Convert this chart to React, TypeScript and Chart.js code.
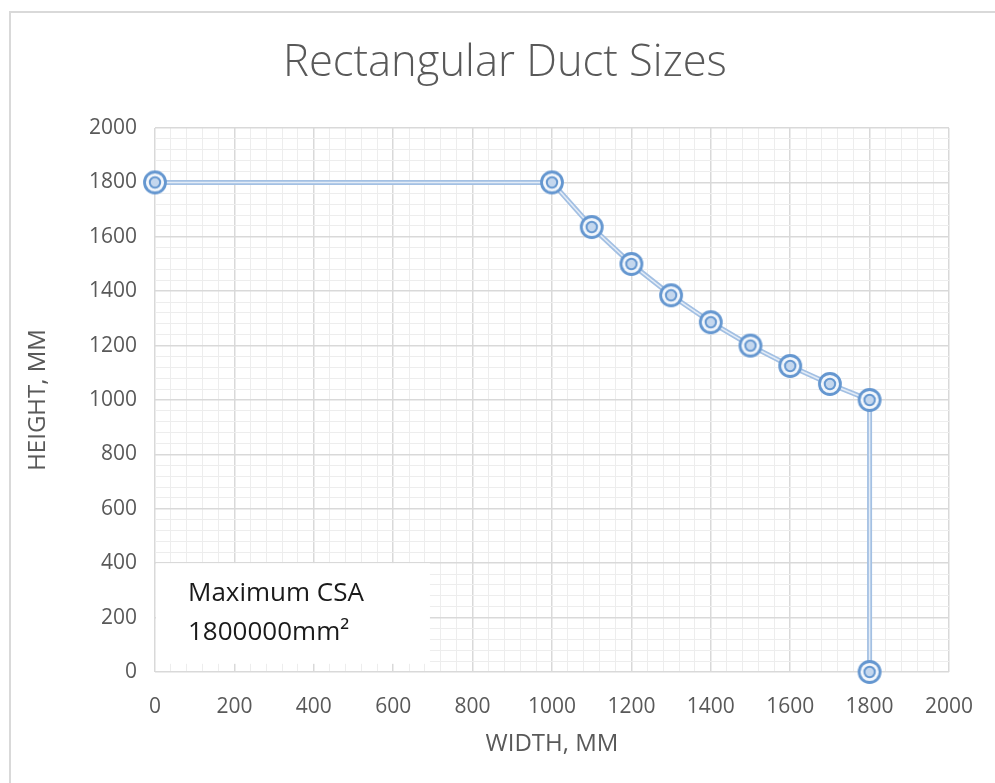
import React, { useEffect, useRef } from "react";
import { Chart, registerables } from "chart.js";

Chart.register(...registerables);

const TITLE = "Rectangular Duct Sizes";
const X_TITLE = "WIDTH, MM";
const Y_TITLE = "HEIGHT, MM";
const NOTE_LINES = ["Maximum CSA", "1800000mm²"];

const widths = [0, 1000, 1100, 1200, 1300, 1400, 1500, 1600, 1700, 1800, 1800];
const heights = [1800, 1800, 1636, 1500, 1385, 1286, 1200, 1125, 1059, 1000, 0];

const AXIS_MIN = 0;
const AXIS_MAX = 2000;
const MAJOR_STEP = 200;
const MINOR_STEP = 40;

// note box extent in data units
const NOTE_X = [0, 690];
const NOTE_Y = [30, 400];

function makeMarker(): HTMLCanvasElement {
  const c = document.createElement("canvas");
  const s = 28;
  c.width = s;
  c.height = s;
  const g = c.getContext("2d")!;
  g.beginPath();
  g.arc(s / 2, s / 2, 10.5, 0, Math.PI * 2);
  g.fillStyle = "#f3f7fc";
  g.fill();
  g.lineWidth = 2.8;
  g.strokeStyle = "#6597d0";
  g.stroke();
  g.beginPath();
  g.arc(s / 2, s / 2, 5.2, 0, Math.PI * 2);
  g.fillStyle = "#c4d7ee";
  g.fill();
  g.lineWidth = 2;
  g.strokeStyle = "#6597d0";
  g.stroke();
  return c;
}

const titlePlugin = {
  id: "centeredTitle",
  afterDraw(chart: any) {
    const { ctx } = chart;
    ctx.save();
    ctx.fillStyle = "#595959";
    ctx.font = "300 43.5px 'Open Sans'";
    ctx.textAlign = "center";
    ctx.textBaseline = "middle";
    ctx.fillText(TITLE, 505, 64);
    ctx.restore();
  },
};

const notePlugin = {
  id: "noteBox",
  beforeDatasetsDraw(chart: any) {
    const { ctx, scales } = chart;
    const x0 = scales.x.getPixelForValue(NOTE_X[0]);
    const x1 = scales.x.getPixelForValue(NOTE_X[1]);
    const y0 = scales.y.getPixelForValue(NOTE_Y[1]);
    const y1 = scales.y.getPixelForValue(NOTE_Y[0]);
    ctx.save();
    ctx.fillStyle = "#ffffff";
    ctx.fillRect(x0 + 1, y0, x1 - x0, y1 - y0);
    ctx.fillStyle = "#1a1a1a";
    ctx.font = "26px 'Open Sans'";
    ctx.textBaseline = "alphabetic";
    ctx.textAlign = "left";
    ctx.fillText(NOTE_LINES[0], x0 + 33, y0 + 38);
    ctx.fillText(NOTE_LINES[1], x0 + 33, y0 + 77);
    ctx.restore();
  },
};

export default function App() {
  const ref = useRef<HTMLCanvasElement>(null);
  useEffect(() => {
    const marker = makeMarker();
    const pts = widths.map((w, i) => ({ x: w, y: heights[i] }));
    const isMajor = (c: any) => c.tick && Math.round(c.tick.value) % MAJOR_STEP === 0;
    const gridColor = (c: any) => (isMajor(c) ? "#d9d9d9" : "#ededed");
    const gridWidth = (c: any) => (isMajor(c) ? 1.5 : 1);
    const tickCb = (v: any) => (Math.round(Number(v)) % MAJOR_STEP === 0 ? String(v) : "");
    const chart = new Chart(ref.current!, {
      type: "scatter",
      data: {
        datasets: [
          {
            data: pts,
            showLine: true,
            borderColor: "#e3ecf7",
            borderWidth: 1.5,
            pointStyle: marker as any,
            pointRadius: 11,
            clip: false as any,
          },
          {
            data: pts,
            showLine: true,
            borderColor: "#a3c0e3",
            borderWidth: 5,
            pointRadius: 0,
            clip: false as any,
          },
        ],
      },
      plugins: [notePlugin, titlePlugin],
      options: {
        responsive: false,
        animation: false,
        layout: { padding: { left: 10, right: 45, top: 128, bottom: 0 } },
        plugins: {
          legend: { display: false },
          tooltip: { enabled: false },
          title: { display: false },
        },
        scales: {
          x: {
            type: "linear",
            min: AXIS_MIN,
            max: AXIS_MAX,
            afterFit: (s: any) => {
              s.height = 111;
            },
            border: { display: false },
            grid: { color: gridColor, lineWidth: gridWidth, drawTicks: false },
            ticks: {
              stepSize: MINOR_STEP,
              autoSkip: false,
              maxRotation: 0,
              padding: 22,
              color: "#595959",
              font: { family: "'Open Sans'", size: 21 },
              callback: tickCb,
            },
            title: {
              display: true,
              text: X_TITLE,
              color: "#595959",
              font: { family: "'Open Sans'", size: 24 },
              padding: { top: 0, bottom: 24 },
            },
          },
          y: {
            type: "linear",
            min: AXIS_MIN,
            max: AXIS_MAX,
            afterFit: (s: any) => {
              s.width = 145;
            },
            border: { display: false },
            grid: { color: gridColor, lineWidth: gridWidth, drawTicks: false },
            ticks: {
              stepSize: MINOR_STEP,
              autoSkip: false,
              padding: 18,
              color: "#595959",
              font: { family: "'Open Sans'", size: 21 },
              callback: tickCb,
            },
            title: {
              display: true,
              text: Y_TITLE,
              color: "#595959",
              font: { family: "'Open Sans'", size: 24 },
              padding: { top: 14, bottom: 0 },
            },
          },
        },
      },
    });
    return () => chart.destroy();
  }, []);
  return (
    <div style={{ position: "fixed", left: 0, top: 0, width: 995, height: 783, overflow: "hidden", background: "#fff" }}>
      <div
        style={{
          position: "absolute",
          left: 9,
          top: 11,
          width: 1100,
          height: 900,
          borderLeft: "2px solid #d9d9d9",
          borderTop: "2px solid #d9d9d9",
        }}
      />
      <canvas ref={ref} width={995} height={783} style={{ position: "absolute", left: 0, top: 0 }} />
    </div>
  );
}
